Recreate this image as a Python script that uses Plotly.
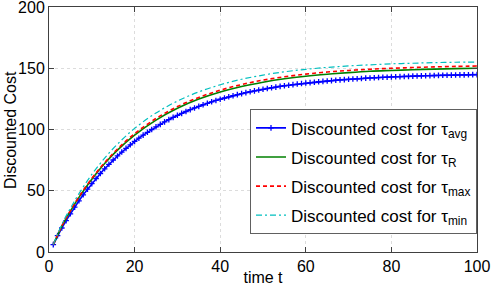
import plotly.graph_objects as go

# time steps for the marked (tau_avg) series
t_avg = list(range(1, 101))
cost_avg = [6.0, 13.4, 19.6, 25.6, 31.2, 36.6, 41.8, 46.7, 51.3, 55.8,
            60.0, 64.1, 67.9, 71.6, 75.1, 78.4, 81.6, 84.6, 87.5, 90.3,
            92.9, 95.4, 97.7, 100.0, 102.2, 104.2, 106.2, 108.1, 109.9, 111.6,
            113.2, 114.7, 116.2, 117.6, 118.9, 120.2, 121.4, 122.6, 123.7, 124.7,
            125.7, 126.7, 127.6, 128.5, 129.3, 130.1, 130.8, 131.5, 132.2, 132.8,
            133.5, 134.1, 134.6, 135.2, 135.7, 136.1, 136.6, 137.1, 137.5, 137.9,
            138.3, 138.6, 139.0, 139.3, 139.6, 139.9, 140.2, 140.5, 140.7, 141.0,
            141.2, 141.4, 141.6, 141.9, 142.1, 142.2, 142.4, 142.6, 142.7, 142.9,
            143.1, 143.2, 143.3, 143.4, 143.6, 143.7, 143.8, 143.9, 144.0, 144.1,
            144.2, 144.3, 144.3, 144.4, 144.5, 144.6, 144.6, 144.7, 144.8, 144.8]

# time steps read for the other series
t_other = [1, 3, 5, 7, 10, 13, 16, 20, 25, 30, 35, 40, 45, 50, 55, 60,
           65, 70, 75, 80, 85, 90, 95, 100]
cost_R = [6.0, 21.0, 33.4, 44.6, 59.4, 72.2, 83.2, 95.4, 107.7, 117.3, 124.8, 130.6,
          135.1, 138.6, 141.4, 143.5, 145.1, 146.4, 147.5, 148.2, 148.8, 149.3, 149.7, 150.0]
cost_max = [6.0, 21.3, 33.8, 45.1, 60.1, 73.0, 84.1, 96.6, 109.0, 118.7, 126.2, 132.1,
            136.7, 140.3, 143.0, 145.2, 146.9, 148.2, 149.2, 150.0, 150.6, 151.1, 151.5, 151.8]
cost_min = [6.0, 22.5, 35.7, 47.6, 63.3, 76.6, 88.1, 100.9, 113.5, 123.2, 130.7, 136.5,
            141.0, 144.4, 147.1, 149.1, 150.7, 151.9, 152.8, 153.6, 154.1, 154.6, 154.9, 155.1]

names = ["Discounted cost for τ<sub>avg</sub>",
         "Discounted cost for τ<sub>R</sub>",
         "Discounted cost for τ<sub>max</sub>",
         "Discounted cost for τ<sub>min</sub>"]

x_ticks = [0, 20, 40, 60, 80, 100]
y_ticks = [0, 50, 100, 150, 200]

FONT = "Liberation Sans, Arial, Helvetica, sans-serif"

fig = go.Figure()
fig.add_trace(go.Scatter(x=t_avg, y=cost_avg, name=names[0], mode="lines+markers",
                         legendgroup="a",
                         line=dict(color="#0000FF", width=1.6),
                         marker=dict(symbol="cross-thin", size=4,
                                     line=dict(color="#0000FF", width=1.3))))
fig.add_trace(go.Scatter(x=t_other, y=cost_R, name=names[1], mode="lines",
                         legendgroup="b",
                         line=dict(color="#008000", width=1.6, shape="spline")))
fig.add_trace(go.Scatter(x=t_other, y=cost_max, name=names[2], mode="lines",
                         legendgroup="c",
                         line=dict(color="#FF0000", width=1.6, dash="4px,3px", shape="spline")))
fig.add_trace(go.Scatter(x=t_other, y=cost_min, name=names[3], mode="lines",
                         legendgroup="d",
                         line=dict(color="#00BFBF", width=1.2, dash="6px,3px,2px,3px",
                                   shape="spline")))

axis_common = dict(showline=True, linecolor="#404040", linewidth=1, mirror="ticks",
                   ticks="inside", ticklen=5, tickcolor="#404040",
                   showgrid=True, gridcolor="#dcdcdc", griddash="dot", gridwidth=1,
                   zeroline=False, ticklabeloverflow="allow", automargin=False,
                   tickfont=dict(size=16, color="#000000"))

fig.update_layout(
    width=491, height=286,
    margin=dict(l=49, r=14, t=7, b=34),
    paper_bgcolor="white", plot_bgcolor="white",
    font=dict(family=FONT, size=16, color="#000000"),
    xaxis=dict(range=[0, 100], tickvals=x_ticks,
               title=dict(text="time t", font=dict(size=16), standoff=1),
               **axis_common),
    yaxis=dict(range=[0, 200], tickvals=y_ticks, **axis_common),
    legend=dict(x=1, xanchor="right", y=0.072, yanchor="bottom",
                bgcolor="white", bordercolor="#606060", borderwidth=1,
                font=dict(size=17), itemwidth=30, tracegroupgap=4),
    showlegend=True,
    annotations=[dict(text="Discounted Cost", textangle=-90, showarrow=False,
                      xref="paper", yref="paper", x=-49 / 427.4, y=0.5,
                      xanchor="left", yanchor="middle", font=dict(size=16))],
)

fig.write_html("out.html", config={"displayModeBar": False},
               post_script="document.body.style.margin='0';document.body.style.overflow='hidden';")
